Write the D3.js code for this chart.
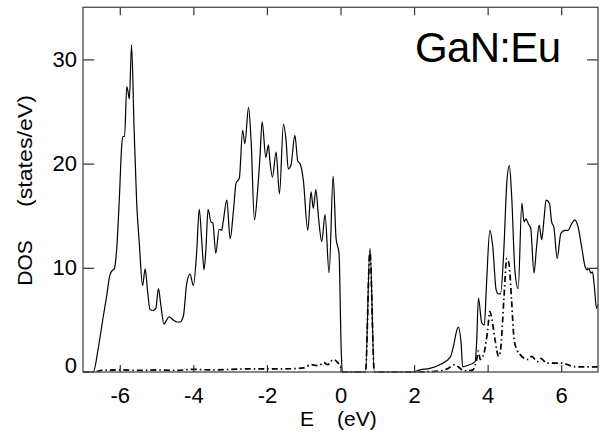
<!DOCTYPE html>
<html>
<head>
<meta charset="utf-8">
<script src="https://cdn.jsdelivr.net/npm/d3@7/dist/d3.min.js"></script>
<style>
  html, body { margin: 0; padding: 0; background: #fff; }
  svg { display: block; }
  text { font-family: "Liberation Sans", Arial, sans-serif; fill: #000; }
</style>
</head>
<body>
<svg id="chart" width="606" height="434"></svg>
<script>
// ---- data ----
const totalE = [-7.0,-6.72,-6.58,-6.45,-6.36,-6.27,-6.19,-6.15,-6.08,-6.01,-5.95,-5.92,-5.87,-5.81,-5.78,-5.74,-5.68,-5.61,-5.54,-5.47,-5.38,-5.31,-5.24,-5.18,-5.09,-5.02,-4.95,-4.88,-4.80,-4.74,-4.66,-4.55,-4.44,-4.36,-4.27,-4.18,-4.09,-4.00,-3.91,-3.84,-3.77,-3.71,-3.66,-3.60,-3.52,-3.47,-3.39,-3.30,-3.23,-3.19,-3.09,-3.00,-2.91,-2.84,-2.75,-2.66,-2.60,-2.50,-2.43,-2.34,-2.26,-2.19,-2.13,-2.03,-1.96,-1.92,-1.85,-1.75,-1.66,-1.55,-1.48,-1.42,-1.35,-1.24,-1.16,-1.10,-1.01,-0.89,-0.80,-0.74,-0.67,-0.60,-0.51,-0.42,-0.31,-0.20,-0.12,-0.04,0.02,0.05,0.68,0.80,0.92,1.98,2.16,2.43,2.70,2.98,3.09,3.14,3.20,3.28,3.32,3.43,3.66,3.70,3.75,3.84,3.91,3.97,4.06,4.14,4.23,4.29,4.35,4.44,4.52,4.59,4.65,4.74,4.83,4.93,4.99,5.04,5.11,5.17,5.26,5.33,5.40,5.47,5.53,5.59,5.68,5.74,5.80,5.89,5.99,6.10,6.19,6.28,6.37,6.46,6.56,6.65,6.71,6.76,6.80,6.85,6.90,6.96,7.0];
const totalDOS = [0,0,2.4,5.3,7.2,9.3,9.8,9.9,12.0,16.8,21.6,22.6,22.6,27.4,27.0,26.2,31.4,23.2,16.2,12.4,8.3,9.9,7.6,6.0,5.9,6.1,8.0,6.3,4.6,4.9,5.3,5.0,4.8,4.8,5.4,8.5,9.4,8.3,11.5,15.6,12.5,9.8,11.7,15.6,14.4,14.3,11.4,13.7,13.6,14.4,16.5,12.8,15.5,18.1,18.6,23.2,21.9,25.4,22.2,14.6,17.1,20.6,24.0,20.6,21.8,20.3,18.7,21.1,17.1,23.8,22.2,19.5,19.8,22.7,20.2,20.0,18.4,13.6,17.3,15.7,17.5,14.9,12.5,15.1,9.5,18.8,12.8,11.4,2.0,0,0,11.9,0,0,0.2,0.35,0.7,1.4,2.8,3.7,4.3,2.7,0.5,0.6,1.0,2.8,7.1,4.7,4.5,8.5,13.6,12.0,7.9,7.5,7.5,11.7,18.1,19.8,17.1,9.8,8.0,16.2,14.4,14.7,14.2,13.8,9.5,12.0,14.1,12.7,14.6,16.5,16.2,14.4,13.9,10.9,13.3,13.6,13.6,14.2,14.6,13.9,11.9,10.1,9.8,9.9,9.5,9.6,8.2,6.1,6.5];

const euE = [-7.0,-6.7,-6.5,-6.0,-5.5,-5.0,-4.5,-4.0,-3.5,-3.0,-2.5,-2.0,-1.5,-1.0,-0.8,-0.6,-0.45,-0.35,-0.2,-0.1,0.0,0.05,0.68,0.80,0.92,2.0,2.5,2.9,3.1,3.2,3.3,3.4,3.6,3.7,3.75,3.8,3.9,4.0,4.06,4.12,4.2,4.3,4.35,4.44,4.52,4.58,4.65,4.72,4.8,4.9,5.1,5.2,5.35,5.45,5.6,6.0,6.4,7.0];
const euDOS = [0,0,0.15,0.2,0.15,0.2,0.15,0.25,0.2,0.25,0.3,0.3,0.3,0.4,0.7,0.6,0.9,0.7,1.2,1.0,0.5,0,0,11.6,0,0,0.05,0.3,0.7,0.5,0.2,0.1,0.2,1.2,2.0,1.2,1.8,4.0,5.8,5.0,3.1,1.5,2.1,6.9,10.9,10.4,6.9,3.1,2.1,1.6,1.2,1.5,1.0,1.3,0.85,0.85,0.5,0.5];

const xTicks = [-6,-4,-2,0,2,4,6];
const yTicks = [0,10,20,30];
const xLabelVar = "E";
const xLabelUnit = "(eV)";
const yLabelVar = "DOS";
const yLabelUnit = "(states/eV)";
const title = "GaN:Eu";

// ---- layout ----
const svg = d3.select("#chart");
const L = 83, R = 598, T = 7.3, B = 372;
const x = d3.scaleLinear().domain([-7, 7]).range([L, R]);
const y = d3.scaleLinear().domain([0, 35]).range([B, T]);

const total = totalE.map((e, i) => [e, totalDOS[i]]);
const eu = euE.map((e, i) => [e, euDOS[i]]);

const line = d3.line().x(d => x(d[0])).y(d => y(d[1])).curve(d3.curveMonotoneX);

svg.append("path").datum(total)
  .attr("d", line).attr("fill", "none").attr("stroke", "#000").attr("stroke-width", 1.2);

svg.append("path").datum(eu)
  .attr("d", line).attr("fill", "none").attr("stroke", "#000").attr("stroke-width", 1.7)
  .attr("stroke-dasharray", "6,3,1.5,3");

// frame
svg.append("rect").attr("x", L).attr("y", T).attr("width", R - L).attr("height", B - T)
  .attr("fill", "none").attr("stroke", "#555").attr("stroke-width", 1.4);

const fmt = d => String(d);  // plain hyphen-minus as in the original
const xb = svg.append("g").attr("transform", `translate(0,${B})`)
  .call(d3.axisBottom(x).tickValues(xTicks).tickSize(-7).tickPadding(15).tickFormat(fmt));
const xt = svg.append("g").attr("transform", `translate(0,${T})`)
  .call(d3.axisTop(x).tickValues(xTicks).tickSize(-8).tickFormat(""));
const yl = svg.append("g").attr("transform", `translate(${L},0)`)
  .call(d3.axisLeft(y).tickValues(yTicks).tickSize(-11).tickPadding(6).tickFormat(fmt));
const yr = svg.append("g").attr("transform", `translate(${R},0)`)
  .call(d3.axisRight(y).tickValues(yTicks).tickSize(-11).tickFormat(""));

[xb, xt, yl, yr].forEach(g => {
  g.select(".domain").remove();
  g.selectAll(".tick line").attr("stroke", "#333").attr("stroke-width", 1.2);
  g.selectAll("text").attr("font-size", 22).attr("font-family", "Liberation Sans, Arial, sans-serif").attr("fill", "#000");
});
yl.selectAll(".tick").filter(d => d === 0).select("line").remove();
yr.selectAll(".tick").filter(d => d === 0).select("line").remove();
yl.selectAll(".tick").filter(d => d === 0).select("text").attr("dy", "0.0em");
xb.selectAll("text").attr("dy", "0.71em");

// axis titles
svg.append("text").attr("x", 300).attr("y", 426).attr("font-size", 21).text(xLabelVar);
svg.append("text").attr("x", 337).attr("y", 426).attr("font-size", 21).text(xLabelUnit);

svg.append("text").attr("transform", "translate(32,263) rotate(-90)")
  .attr("text-anchor", "middle").attr("font-size", 21).text(yLabelVar);
svg.append("text").attr("transform", "translate(32,151) rotate(-90)")
  .attr("text-anchor", "middle").attr("font-size", 21)
  .attr("textLength", 112).attr("lengthAdjust", "spacingAndGlyphs").text(yLabelUnit);

svg.append("text").attr("x", 415).attr("y", 62).attr("font-size", 42)
  .attr("textLength", 146).attr("lengthAdjust", "spacing")
  .attr("font-family", "Open Sans, Lato, sans-serif").attr("font-weight", 300).text(title);
</script>
</body>
</html>
